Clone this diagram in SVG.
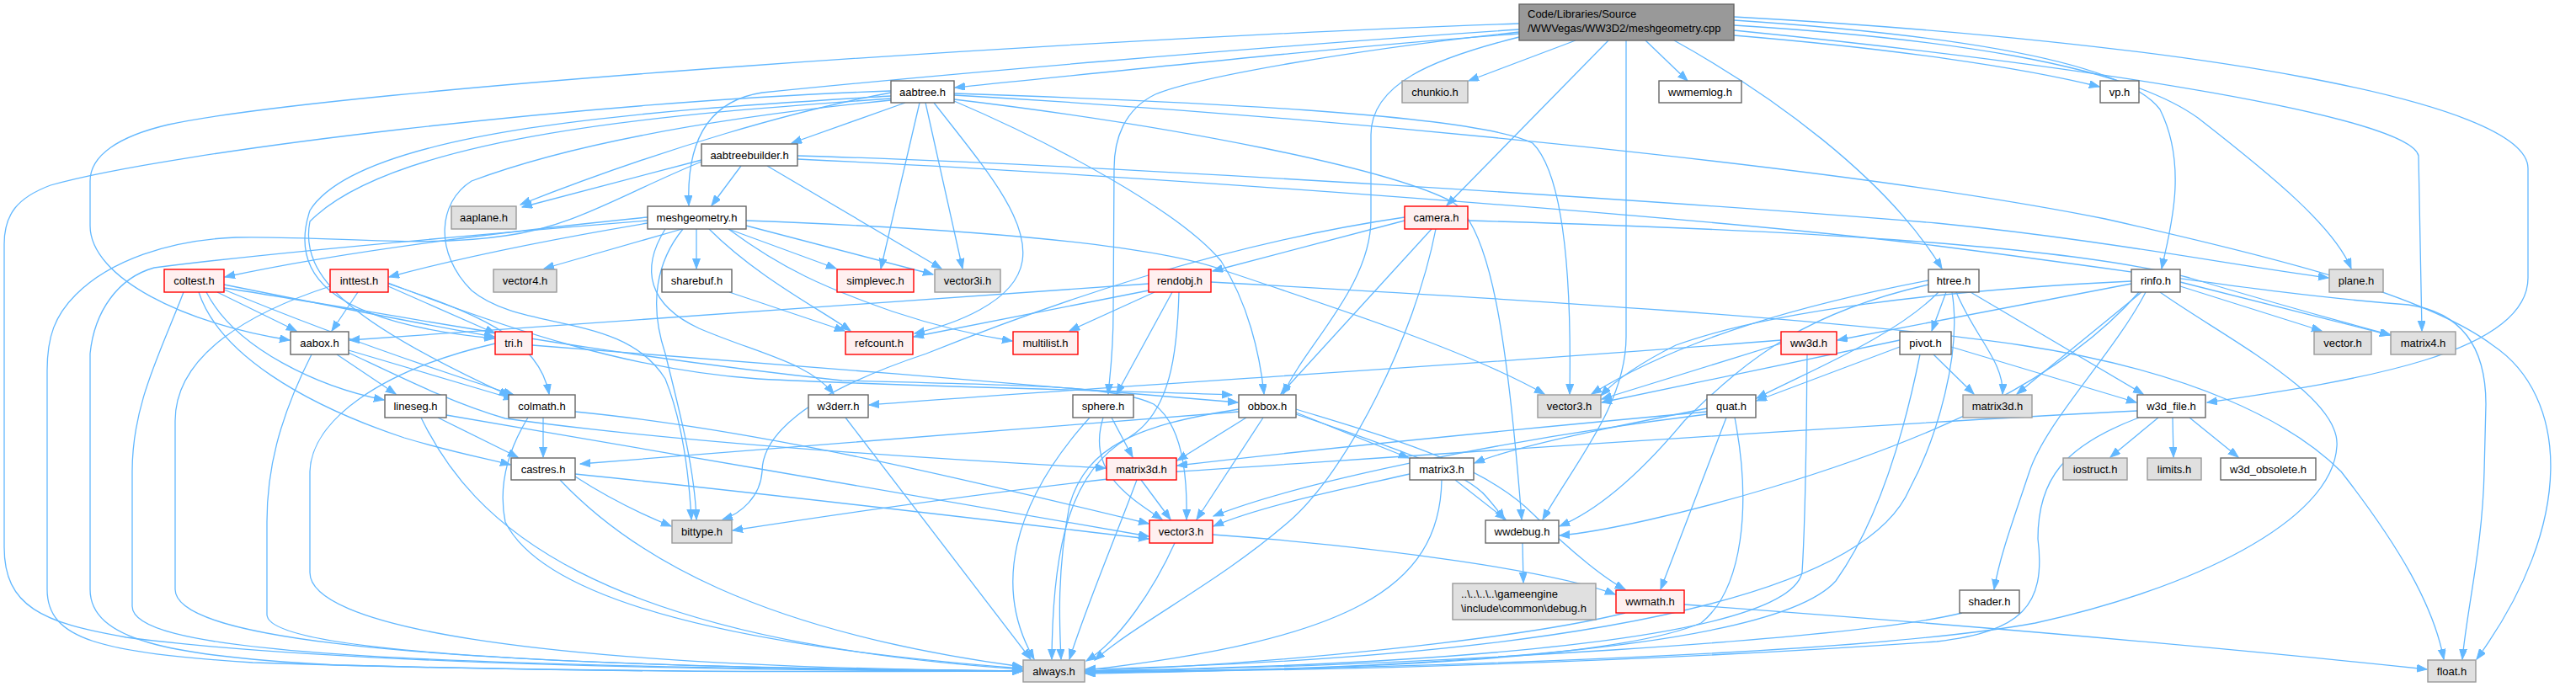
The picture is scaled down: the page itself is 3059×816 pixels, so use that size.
<svg xmlns="http://www.w3.org/2000/svg" width="3059" height="816" viewBox="0 0 3059 816">
<style>
.n rect{fill:#fff;stroke:#666;stroke-width:1.4}
.g rect{fill:#e0e0e0;stroke:#999;stroke-width:1.4}
.r rect{fill:#fff0f0;stroke:#f00;stroke-width:1.4}
.top rect{fill:#999;stroke:#666;stroke-width:1.4}
text{font-family:"Liberation Sans",Arial,Helvetica,sans-serif;font-size:13px;fill:#000;text-anchor:middle}
text.l{text-anchor:start}
#edges path{fill:none;stroke:#63b8ff;stroke-width:1.3;marker-end:url(#ah)}
</style>
<defs>
<marker id="ah" markerUnits="userSpaceOnUse" markerWidth="13" markerHeight="10" refX="12" refY="4.5" orient="auto"><path d="M0,0 L12,4.5 L0,9 z" fill="#63b8ff" stroke="#63b8ff" stroke-width="1"/></marker>
</defs>
<rect width="3059" height="816" fill="#fff"/>
<g id="edges">
<path d="M1804,40 C1600,55 1350,82 1134,104"/>
<path d="M1804,28 C1300,45 400,105 200,148 C140,162 107,185 107,215 L107,268 C107,330 220,385 344,404"/>
<path d="M1804,35 C1500,55 1100,90 905,110 C840,120 815,170 818,244"/>
<path d="M1871,48 L1744,96"/>
<path d="M1954,48 L2004,96"/>
<path d="M1910,48 L1718,244"/>
<path d="M1931,48 L1931,400 C1931,480 1870,550 1832,617"/>
<path d="M1804,44 C1700,70 1628,100 1628,160 L1628,260 C1628,340 1550,410 1524,468"/>
<path d="M1804,38 C1600,60 1420,92 1372,112 C1335,130 1323,165 1323,200 L1322,370 C1322,420 1318,445 1316,468"/>
<path d="M1988,48 C2100,110 2240,210 2306,319"/>
<path d="M2059,24 C2300,40 2520,70 2565,130 C2600,200 2575,280 2567,319"/>
<path d="M2059,30 C2300,45 2520,75 2610,140 C2700,210 2772,270 2792,319"/>
<path d="M2059,36 C2500,80 2862,140 2872,185 L2876,393"/>
<path d="M2059,20 C2600,50 3002,120 3002,200 L3002,330 C3002,420 2800,452 2621,478"/>
<path d="M2059,42 C2250,58 2400,80 2493,103"/>
<path d="M1075,122 L940,170"/>
<path d="M1092,122 L1046,319"/>
<path d="M1099,122 L1143,319"/>
<path d="M1109,122 C1170,200 1222,260 1214,310 C1206,360 1130,386 1086,396"/>
<path d="M1133,120 C1250,170 1400,250 1450,310 C1482,360 1496,420 1501,468"/>
<path d="M1058,110 C950,130 790,175 618,243"/>
<path d="M1058,108 C700,120 200,180 60,220 C20,235 5,255 5,290 L5,650 C5,720 50,740 150,757 C400,790 900,797 1214,797"/>
<path d="M1058,114 C800,130 430,150 368,250 C345,320 380,382 587,402"/>
<path d="M1058,117 C800,135 470,160 368,263 C355,330 420,385 605,470"/>
<path d="M1058,119 C850,140 680,170 560,215 C520,240 515,300 560,345 C620,395 740,370 790,450 C810,500 818,560 821,617"/>
<path d="M1133,111 C1400,120 1750,135 1820,170 C1860,210 1866,350 1864,468"/>
<path d="M1133,118 C1400,150 1650,200 1725,240 C1770,270 1790,400 1807,617"/>
<path d="M1133,113 C1600,140 2200,200 2500,260 C2700,305 2880,350 2960,410 C3050,470 3060,620 2941,783"/>
<path d="M880,197 L845,244"/>
<path d="M911,197 L1118,319"/>
<path d="M833,190 L620,246"/>
<path d="M833,192 C740,230 680,270 600,280 C500,295 400,280 280,282 C200,285 130,310 90,350 C65,375 56,400 56,440 L56,700 C56,760 120,775 300,787 C700,800 1000,798 1214,797"/>
<path d="M947,185 C1300,195 2000,240 2300,265 C2500,285 2650,315 2765,330"/>
<path d="M947,189 C1300,205 2000,255 2300,292 C2560,325 2700,350 2860,362 C2930,372 2952,420 2952,480 L2950,560 C2948,650 2930,720 2924,783"/>
<path d="M827,272 L827,319"/>
<path d="M865,272 L993,319"/>
<path d="M886,268 L1108,326"/>
<path d="M842,272 C900,330 975,368 1010,393"/>
<path d="M865,272 C930,320 980,342 1060,370 C1120,390 1170,400 1202,405"/>
<path d="M810,272 L646,319"/>
<path d="M769,258 C600,275 400,300 267,329"/>
<path d="M769,265 C650,285 550,305 462,329"/>
<path d="M790,272 C760,320 770,362 830,390 C900,420 960,430 990,468"/>
<path d="M811,272 C780,310 770,360 790,420 C810,500 825,560 827,617"/>
<path d="M769,262 C600,276 320,300 183,318 C140,330 112,370 107,420 L107,700 C107,760 200,780 400,790 C800,800 1000,797 1214,797"/>
<path d="M886,262 C1100,270 1350,285 1450,320 C1600,370 1750,420 1834,468"/>
<path d="M258,347 L352,393"/>
<path d="M266,338 C400,365 500,385 587,400"/>
<path d="M245,347 C280,415 380,460 456,475"/>
<path d="M266,344 C400,400 520,440 610,469"/>
<path d="M236,347 C260,420 360,480 480,520 C540,538 580,545 606,552"/>
<path d="M218,347 C190,420 157,480 157,560 L157,720 C157,770 400,792 1214,797"/>
<path d="M266,342 C450,370 700,420 1000,452 C1200,458 1320,456 1370,480 C1405,505 1410,570 1409,617"/>
<path d="M425,347 L394,393"/>
<path d="M461,340 L588,396"/>
<path d="M461,337 C560,370 640,400 652,468"/>
<path d="M392,340 C300,370 208,420 208,500 L208,700 C208,760 500,792 1214,797"/>
<path d="M461,336 C600,390 750,440 900,450 C1100,460 1300,463 1463,469"/>
<path d="M400,421 L470,468"/>
<path d="M414,416 L610,474"/>
<path d="M370,421 C330,500 317,560 317,620 L317,730 C317,770 600,792 1214,797"/>
<path d="M414,419 C480,450 540,480 600,497 C800,525 1100,545 1313,556"/>
<path d="M588,408 C450,440 370,500 368,560 L368,680 C368,740 600,792 1214,797"/>
<path d="M632,410 C900,430 1200,455 1470,478"/>
<path d="M520,496 L615,543"/>
<path d="M500,496 C560,620 700,760 1214,795"/>
<path d="M530,493 C800,540 1100,590 1364,637"/>
<path d="M645,496 L645,543"/>
<path d="M627,496 C600,540 592,580 600,620 C650,720 900,770 1214,794"/>
<path d="M683,489 C900,510 1150,570 1364,622"/>
<path d="M683,563 C900,585 1150,615 1364,640"/>
<path d="M665,570 C750,660 900,750 1214,792"/>
<path d="M683,566 C720,590 760,610 797,625"/>
<path d="M866,347 L1003,393"/>
<path d="M1364,345 L1085,400"/>
<path d="M1371,347 L1270,393"/>
<path d="M1392,347 L1326,468"/>
<path d="M1400,347 C1398,420 1390,490 1340,520 C1270,560 1250,650 1249,783"/>
<path d="M1364,337 C1000,360 700,385 415,404"/>
<path d="M1438,335 C1800,355 2200,380 2400,410 C2600,440 2720,500 2780,560 C2850,650 2890,720 2902,783"/>
<path d="M1668,262 L1440,322"/>
<path d="M1700,272 L1521,468"/>
<path d="M1705,272 C1680,400 1600,560 1530,620 C1450,690 1350,740 1300,784"/>
<path d="M1668,258 C1450,290 1250,360 1100,420 C950,470 905,520 905,560 C903,590 880,610 858,617"/>
<path d="M1743,262 C2100,272 2450,290 2600,330 C2700,360 2780,382 2839,398"/>
<path d="M2311,347 L2294,393"/>
<path d="M2323,347 C2345,400 2380,430 2378,468"/>
<path d="M2340,347 L2545,468"/>
<path d="M2302,347 C2250,400 2150,440 2086,473"/>
<path d="M2290,333 C2150,360 2000,400 1890,468"/>
<path d="M2290,338 C2150,370 2080,420 2000,500 C1950,560 1900,605 1852,625"/>
<path d="M2318,347 C2330,420 2300,520 2268,580 C2200,740 1700,785 1289,795"/>
<path d="M2531,337 L2182,404"/>
<path d="M2589,340 L2757,393"/>
<path d="M2589,335 L2838,398"/>
<path d="M2543,347 L2395,468"/>
<path d="M2531,334 C2300,345 2100,370 1990,410 C1950,430 1920,450 1901,470"/>
<path d="M2540,347 C2450,450 2300,520 2100,580 C2000,610 1900,632 1852,636"/>
<path d="M2565,347 C2640,400 2780,470 2775,530 C2770,620 2600,700 2417,740 C2200,780 1600,795 1289,798"/>
<path d="M2548,347 C2510,420 2430,500 2410,560 C2390,620 2375,660 2368,700"/>
<path d="M2115,408 L1902,474"/>
<path d="M2146,421 C2145,500 2145,600 2140,680 C2120,770 1600,792 1289,797"/>
<path d="M2115,404 C1800,430 1300,460 1032,481"/>
<path d="M2256,412 L2086,476"/>
<path d="M2256,404 L1902,478"/>
<path d="M2296,421 L2344,468"/>
<path d="M2317,412 L2537,478"/>
<path d="M2280,421 C2260,520 2230,620 2180,690 C2100,780 1600,795 1289,800"/>
<path d="M1320,496 L1345,543"/>
<path d="M1310,496 C1290,560 1340,590 1380,617"/>
<path d="M1294,496 C1200,600 1180,700 1228,783"/>
<path d="M1480,496 L1398,547"/>
<path d="M1500,496 L1421,617"/>
<path d="M1539,490 L1673,544"/>
<path d="M1539,486 C1650,520 1760,550 1820,610 C1870,660 1910,690 1930,700"/>
<path d="M1471,486 C1350,505 1290,530 1270,600 C1255,680 1258,740 1260,783"/>
<path d="M1539,492 C1650,530 1740,560 1765,590 C1778,605 1783,612 1786,617"/>
<path d="M1471,489 C1200,510 900,535 689,551"/>
<path d="M1355,570 L1390,617"/>
<path d="M1350,570 C1320,650 1290,720 1270,783"/>
<path d="M1395,645 C1370,700 1330,760 1290,785"/>
<path d="M1440,635 C1650,650 1850,680 1918,706"/>
<path d="M1728,570 L1788,617"/>
<path d="M1674,563 C1600,580 1500,600 1441,625"/>
<path d="M1712,570 C1710,700 1600,760 1289,796"/>
<path d="M2050,496 L1972,700"/>
<path d="M2060,496 C2080,600 2070,700 2020,740 C1900,790 1500,797 1289,798"/>
<path d="M2027,485 C1900,510 1800,530 1751,550"/>
<path d="M2027,489 C1800,510 1550,535 1398,553"/>
<path d="M2027,492 C1800,520 1550,570 1441,613"/>
<path d="M1808,645 L1809,692"/>
<path d="M1930,728 C1800,760 1500,790 1289,797"/>
<path d="M2000,718 C2300,740 2600,765 2882,795"/>
<path d="M2563,496 L2506,543"/>
<path d="M2580,496 L2581,543"/>
<path d="M2600,496 L2658,543"/>
<path d="M2540,496 C2450,530 2420,570 2420,640 C2430,720 2400,750 2300,762 C1900,790 1500,797 1289,799"/>
<path d="M2538,488 C2200,505 1700,540 1400,560 C1200,580 1000,610 870,630"/>
<path d="M2330,728 C2200,760 1700,790 1289,798"/>
<path d="M1004,496 L1224,783"/>
</g>
<g id="node-top" class="top"><rect x="1804" y="5" width="255" height="43"/><text class="l" x="1814" y="21">Code/Libraries/Source</text><text class="l" x="1814" y="38">/WWVegas/WW3D2/meshgeometry.cpp</text></g>
<g id="node-aabtree" class="n"><rect x="1058" y="96" width="75" height="26"/><text x="1095.5" y="114">aabtree.h</text></g>
<g id="node-chunkio" class="g"><rect x="1665" y="96" width="78" height="26"/><text x="1704" y="114">chunkio.h</text></g>
<g id="node-wwmemlog" class="n"><rect x="1970" y="96" width="98" height="26"/><text x="2019" y="114">wwmemlog.h</text></g>
<g id="node-vp" class="n"><rect x="2494" y="96" width="46" height="26"/><text x="2517" y="114">vp.h</text></g>
<g id="node-aabtreebuilder" class="n"><rect x="833" y="171" width="114" height="26"/><text x="890" y="189">aabtreebuilder.h</text></g>
<g id="node-aaplane" class="g"><rect x="536" y="245" width="77" height="27"/><text x="574.5" y="263">aaplane.h</text></g>
<g id="node-meshgeometry" class="n"><rect x="769" y="245" width="117" height="27"/><text x="827.5" y="263">meshgeometry.h</text></g>
<g id="node-camera" class="r"><rect x="1668" y="245" width="75" height="27"/><text x="1705.5" y="263">camera.h</text></g>
<g id="node-coltest" class="r"><rect x="195" y="320" width="71" height="27"/><text x="230.5" y="338">coltest.h</text></g>
<g id="node-inttest" class="r"><rect x="392" y="320" width="69" height="27"/><text x="426.5" y="338">inttest.h</text></g>
<g id="node-vector4" class="g"><rect x="586" y="320" width="75" height="27"/><text x="623.5" y="338">vector4.h</text></g>
<g id="node-sharebuf" class="n"><rect x="786" y="320" width="83" height="27"/><text x="827.5" y="338">sharebuf.h</text></g>
<g id="node-simplevec" class="r"><rect x="994" y="320" width="91" height="27"/><text x="1039.5" y="338">simplevec.h</text></g>
<g id="node-vector3i" class="g"><rect x="1110" y="320" width="78" height="27"/><text x="1149" y="338">vector3i.h</text></g>
<g id="node-rendobj" class="r"><rect x="1364" y="320" width="74" height="27"/><text x="1401" y="338">rendobj.h</text></g>
<g id="node-htree" class="n"><rect x="2290" y="320" width="60" height="27"/><text x="2320" y="338">htree.h</text></g>
<g id="node-rinfo" class="n"><rect x="2531" y="320" width="58" height="27"/><text x="2560" y="338">rinfo.h</text></g>
<g id="node-plane" class="g"><rect x="2766" y="320" width="64" height="27"/><text x="2798" y="338">plane.h</text></g>
<g id="node-aabox" class="n"><rect x="345" y="394" width="69" height="27"/><text x="379.5" y="412">aabox.h</text></g>
<g id="node-tri" class="r"><rect x="588" y="394" width="44" height="27"/><text x="610" y="412">tri.h</text></g>
<g id="node-refcount" class="r"><rect x="1004" y="394" width="80" height="27"/><text x="1044" y="412">refcount.h</text></g>
<g id="node-multilist" class="r"><rect x="1203" y="394" width="77" height="27"/><text x="1241.5" y="412">multilist.h</text></g>
<g id="node-ww3d" class="r"><rect x="2115" y="394" width="66" height="27"/><text x="2148" y="412">ww3d.h</text></g>
<g id="node-pivot" class="n"><rect x="2256" y="394" width="61" height="27"/><text x="2286.5" y="412">pivot.h</text></g>
<g id="node-vector" class="g"><rect x="2748" y="394" width="68" height="27"/><text x="2782" y="412">vector.h</text></g>
<g id="node-matrix4" class="g"><rect x="2839" y="394" width="77" height="27"/><text x="2877.5" y="412">matrix4.h</text></g>
<g id="node-lineseg" class="n"><rect x="457" y="469" width="73" height="27"/><text x="493.5" y="487">lineseg.h</text></g>
<g id="node-colmath" class="n"><rect x="604" y="469" width="79" height="27"/><text x="643.5" y="487">colmath.h</text></g>
<g id="node-w3derr" class="n"><rect x="960" y="469" width="71" height="27"/><text x="995.5" y="487">w3derr.h</text></g>
<g id="node-sphere" class="n"><rect x="1274" y="469" width="72" height="27"/><text x="1310" y="487">sphere.h</text></g>
<g id="node-obbox" class="n"><rect x="1471" y="469" width="68" height="27"/><text x="1505" y="487">obbox.h</text></g>
<g id="node-vector3-ext" class="g"><rect x="1826" y="469" width="75" height="27"/><text x="1863.5" y="487">vector3.h</text></g>
<g id="node-quat" class="n"><rect x="2027" y="469" width="58" height="27"/><text x="2056" y="487">quat.h</text></g>
<g id="node-matrix3d-ext" class="g"><rect x="2331" y="469" width="82" height="27"/><text x="2372" y="487">matrix3d.h</text></g>
<g id="node-w3d_file" class="n"><rect x="2538" y="469" width="81" height="27"/><text x="2578.5" y="487">w3d_file.h</text></g>
<g id="node-castres" class="n"><rect x="607" y="544" width="76" height="26"/><text x="645" y="562">castres.h</text></g>
<g id="node-matrix3d" class="r"><rect x="1314" y="544" width="83" height="26"/><text x="1355.5" y="562">matrix3d.h</text></g>
<g id="node-matrix3" class="n"><rect x="1674" y="544" width="76" height="26"/><text x="1712" y="562">matrix3.h</text></g>
<g id="node-iostruct" class="g"><rect x="2450" y="544" width="76" height="26"/><text x="2488" y="562">iostruct.h</text></g>
<g id="node-limits" class="g"><rect x="2550" y="544" width="64" height="26"/><text x="2582" y="562">limits.h</text></g>
<g id="node-w3d_obsolete" class="n"><rect x="2637" y="544" width="113" height="26"/><text x="2693.5" y="562">w3d_obsolete.h</text></g>
<g id="node-bittype" class="g"><rect x="798" y="618" width="71" height="27"/><text x="833.5" y="636">bittype.h</text></g>
<g id="node-vector3" class="r"><rect x="1365" y="618" width="75" height="27"/><text x="1402.5" y="636">vector3.h</text></g>
<g id="node-wwdebug" class="n"><rect x="1764" y="618" width="87" height="27"/><text x="1807.5" y="636">wwdebug.h</text></g>
<g id="node-debug" class="g"><rect x="1725" y="693" width="170" height="43"/><text class="l" x="1735" y="710">..\..\..\..\gameengine</text><text class="l" x="1735" y="727">\include\common\debug.h</text></g>
<g id="node-wwmath" class="r"><rect x="1919" y="701" width="81" height="27"/><text x="1959.5" y="719">wwmath.h</text></g>
<g id="node-shader" class="n"><rect x="2327" y="701" width="71" height="27"/><text x="2362.5" y="719">shader.h</text></g>
<g id="node-always" class="g"><rect x="1215" y="784" width="73" height="26"/><text x="1251.5" y="802">always.h</text></g>
<g id="node-float" class="g"><rect x="2883" y="784" width="57" height="26"/><text x="2911.5" y="802">float.h</text></g>
</svg>
